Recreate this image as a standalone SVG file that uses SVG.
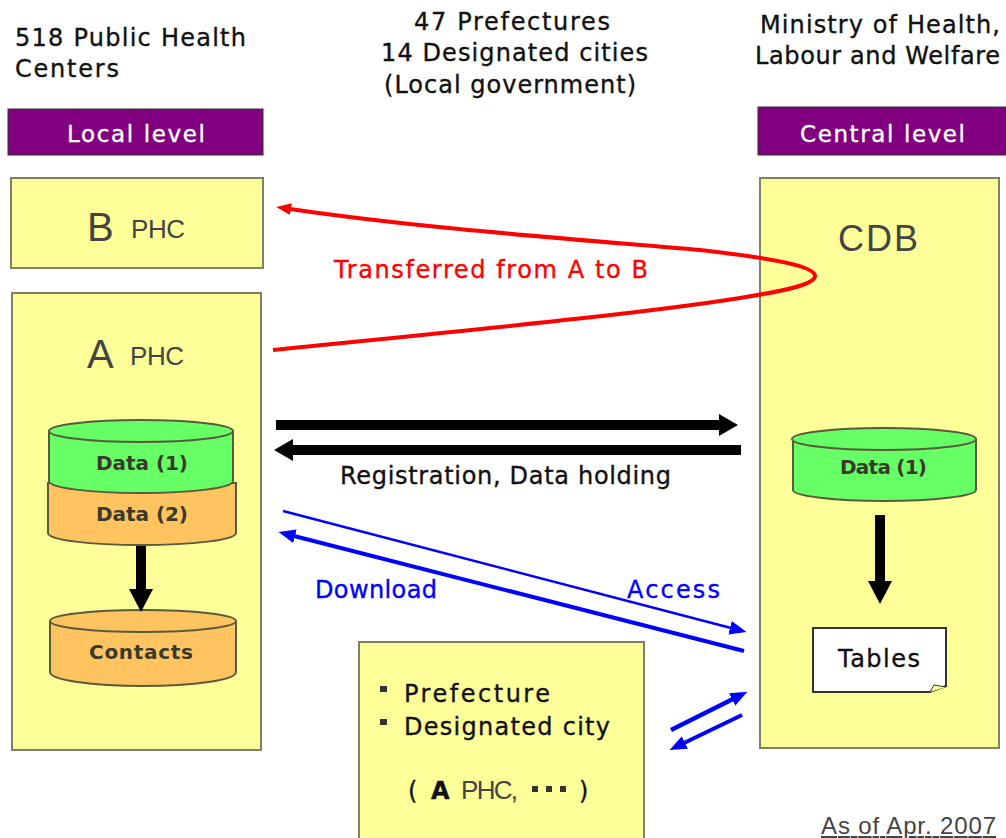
<svg xmlns="http://www.w3.org/2000/svg" width="1006" height="838" viewBox="0 0 1006 838">
<style>
text{font-family:"DejaVu Sans","Liberation Sans",sans-serif;fill:#111;stroke:#111;stroke-width:.35px;font-size:24px}
.hdrt{fill:#fff;stroke:#fff;font-size:23px}
.box{fill:#ffff99;stroke:#808066;stroke-width:2}
.hdr{fill:#800080;stroke:#333;stroke-width:1}
.g{fill:#66ff66;stroke:#5a5a3c;stroke-width:2}
.o{fill:#ffc35f;stroke:#5a5a3c;stroke-width:2}
.db{font-size:20px;font-weight:bold;fill:#3a3a2a;stroke:none}
.thin{font-family:"Liberation Sans",sans-serif;fill:#444;stroke:none}
.blue{fill:#0000ff;stroke:#0000ff}
.red{fill:#ff0000;stroke:#ff0000}
.k{stroke:#000;fill:none;stroke-width:10}
.b{stroke:#0000ff;fill:none}
</style>
<defs>
<marker id="ak" markerUnits="userSpaceOnUse" markerWidth="20" markerHeight="24" refX="1" refY="12" orient="auto"><path d="M0 1L19 12L0 23Z" fill="#000"/></marker>
<marker id="av" markerUnits="userSpaceOnUse" markerWidth="24" markerHeight="26" refX="1" refY="13" orient="auto"><path d="M0 1L23 13L0 25Z" fill="#000"/></marker>
<marker id="ab" markerUnits="userSpaceOnUse" markerWidth="18" markerHeight="16" refX="1" refY="8" orient="auto"><path d="M0 1L17 8L0 15Z" fill="#0000ff"/></marker>
<marker id="ar" markerUnits="userSpaceOnUse" markerWidth="16" markerHeight="14" refX="1" refY="7" orient="auto"><path d="M0 1L15 7L0 13Z" fill="#ff0000"/></marker>
</defs>
<rect width="1006" height="838" fill="#fff"/>
<g id="captions">
<text x="15" y="46" textLength="231">518 Public Health</text>
<text x="15" y="77" textLength="104">Centers</text>
<text x="414" y="30" textLength="196">47 Prefectures</text>
<text x="381" y="61" textLength="267">14 Designated cities</text>
<text x="384" y="93" textLength="252">(Local government)</text>
<text x="760" y="33" textLength="240">Ministry of Health,</text>
<text x="755" y="64" textLength="245">Labour and Welfare</text>
</g>
<g id="local-level"><rect class="hdr" x="8" y="109" width="255" height="46"/><text class="hdrt" x="67" y="142" textLength="138">Local level</text></g>
<g id="central-level"><rect class="hdr" x="758" y="107" width="248" height="48"/><text class="hdrt" x="800" y="142" textLength="165">Central level</text></g>
<g id="phc-b"><rect class="box" x="11" y="178" width="252" height="90"/><text x="87" y="241" style="font-size:40px" class="thin">B</text><text x="131" y="238" class="thin" style="font-size:26px" textLength="54">PHC</text></g>
<g id="phc-a"><rect class="box" x="12" y="293" width="249" height="457"/><text x="87" y="368" style="font-size:40px" class="thin">A</text><text x="130" y="365" class="thin" style="font-size:26px" textLength="54">PHC</text></g>
<g id="cdb"><rect class="box" x="760" y="178" width="239" height="570"/><text x="838" y="251" style="font-size:36px" class="thin" textLength="80">CDB</text></g>
<g id="data2-a"><path class="o" d="M48 483V533C48 540 90 545 141 545S236 540 236 533V483Z"/><text class="db" x="96" y="521" textLength="92">Data (2)</text></g>
<g id="data1-a"><path class="g" d="M49 431V481C49 488 91 493 141 493S233 488 233 481V431Z"/><ellipse class="g" cx="141" cy="431" rx="92" ry="11"/><text class="db" x="96" y="470" textLength="92">Data (1)</text></g>
<g id="contacts"><path class="o" d="M50 622V672C50 680 92 686 143 686S236 680 236 672V622Z"/><ellipse class="o" cx="143" cy="621" rx="93" ry="11"/><text class="db" x="89" y="659" textLength="104">Contacts</text></g>
<g id="data1-c"><path class="g" d="M793 439V490C793 496 835 501 884 501S976 496 976 490V439Z"/><ellipse class="g" cx="884" cy="439" rx="92" ry="11"/><text class="db" x="840" y="474" textLength="87">Data (1)</text></g>
<g id="tables"><path d="M813 628H946V686L930 692H813Z" fill="#fff" stroke="#333" stroke-width="2"/><path d="M930 692L934 685L946 687" fill="#ffff99" stroke="#333"/><text x="838" y="667" textLength="82">Tables</text></g>
<g id="prefecture"><rect class="box" x="359" y="642" width="285" height="200"/>
<rect x="380" y="686" width="7" height="6" fill="#333"/><rect x="380" y="719" width="7" height="6" fill="#333"/>
<text x="404" y="702" textLength="146">Prefecture</text><text x="404" y="735" textLength="206">Designated city</text>
<text x="408" y="799">(</text><text x="431" y="799" style="font-weight:bold">A</text><text x="461" y="799" class="thin" style="font-size:26px" textLength="57">PHC,</text>
<rect x="532" y="786" width="6" height="6" fill="#333"/><rect x="546" y="786" width="6" height="6" fill="#333"/><rect x="560" y="786" width="6" height="6" fill="#333"/>
<text x="579" y="799">)</text></g>
<g id="connectors">
<path d="M273 350C470 330 640 314 740 298C790 290 815 284 815 276C815 266 770 258 700 250C560 238 420 228 290 209" fill="none" stroke="#ff0000" stroke-width="4" marker-end="url(#ar)"/>
<path class="k" d="M276 425H720" marker-end="url(#ak)"/>
<path class="k" d="M741 450H292" marker-end="url(#ak)"/>
<path class="k" d="M141 546V590" marker-end="url(#av)"/>
<path class="k" d="M880 515V582" marker-end="url(#av)"/>
<path class="b" stroke-width="2.5" d="M283 511L731 628" marker-end="url(#ab)"/>
<path class="b" stroke-width="4" d="M744 651L294 536" marker-end="url(#ab)"/>
<path class="b" stroke-width="4.5" d="M671 730L733 699" marker-end="url(#ab)"/>
<path class="b" stroke-width="4" d="M742 715L684 743" marker-end="url(#ab)"/>
</g>
<g id="labels">
<text class="red" x="334" y="278" textLength="314">Transferred from A to B</text>
<text x="340" y="484" textLength="331">Registration, Data holding</text>
<text class="blue" x="315" y="598" textLength="122">Download</text>
<text class="blue" x="627" y="598" textLength="93">Access</text>
<text x="821" y="834" style="font-size:24px;text-decoration:underline;stroke:none" class="thin" textLength="175">As of Apr. 2007</text>
</g>
</svg>
